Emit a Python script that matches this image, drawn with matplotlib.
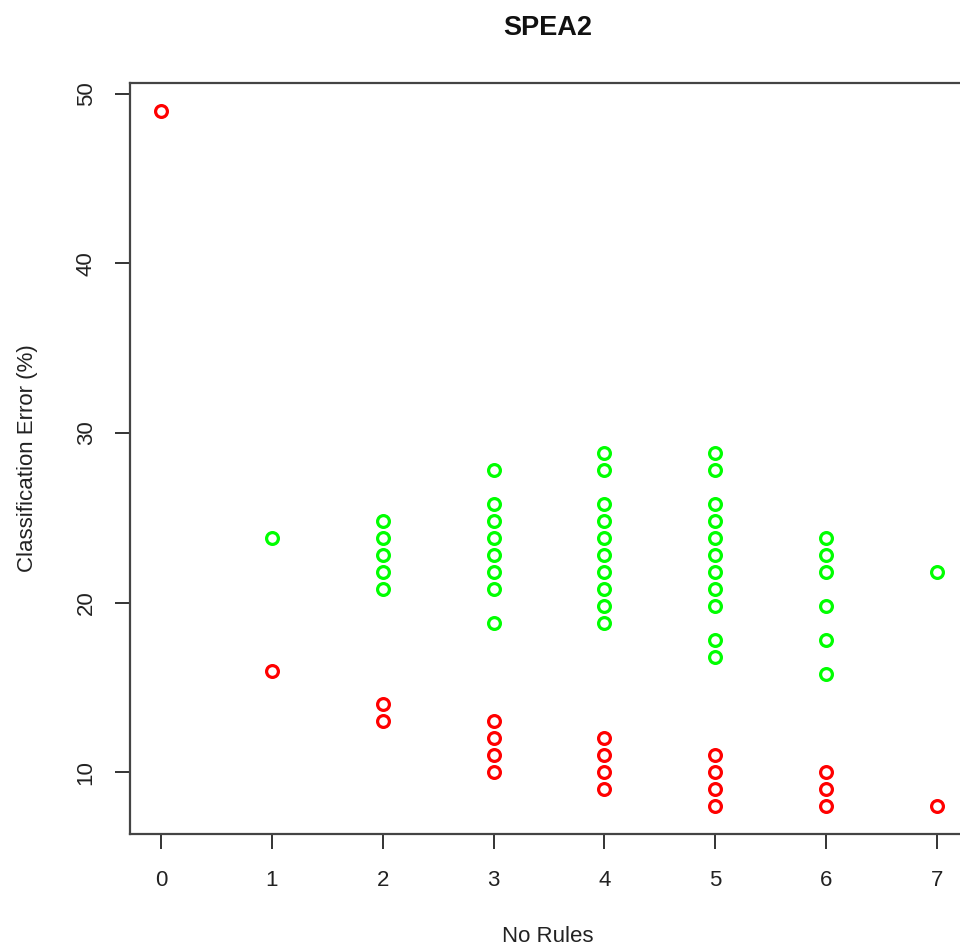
import matplotlib
matplotlib.use('Agg')
import matplotlib.pyplot as plt

plt.rcParams['font.family'] = ['Liberation Sans', 'DejaVu Sans']

# ── data ────────────────────────────────────────────────────────────────────
# green: dominated solutions, red: Pareto front
green_rules = [1,
               2, 2, 2, 2, 2,
               3, 3, 3, 3, 3, 3, 3, 3,
               4, 4, 4, 4, 4, 4, 4, 4, 4, 4,
               5, 5, 5, 5, 5, 5, 5, 5, 5, 5, 5,
               6, 6, 6, 6, 6, 6,
               7]
green_error = [23.8,
               24.8, 23.8, 22.8, 21.8, 20.8,
               27.8, 25.8, 24.8, 23.8, 22.8, 21.8, 20.8, 18.8,
               28.8, 27.8, 25.8, 24.8, 23.8, 22.8, 21.8, 20.8, 19.8, 18.8,
               28.8, 27.8, 25.8, 24.8, 23.8, 22.8, 21.8, 20.8, 19.8, 17.8, 16.8,
               23.8, 22.8, 21.8, 19.8, 17.8, 15.8,
               21.8]

red_rules = [0, 1, 2, 2, 3, 3, 3, 3, 4, 4, 4, 4, 5, 5, 5, 5, 6, 6, 6, 7]
red_error = [49, 16, 14, 13, 13, 12, 11, 10, 12, 11, 10, 9, 11, 10, 9, 8, 10, 9, 8, 8]

x_ticks = [0, 1, 2, 3, 4, 5, 6, 7]
y_ticks = [10, 20, 30, 40, 50]

# ── figure ──────────────────────────────────────────────────────────────────
W, H = 960, 950
fig = plt.figure(figsize=(W / 100, H / 100), dpi=100)
left, right, top, bottom = 130, 968, 83, 834
ax = fig.add_axes([left / W, 1 - bottom / H, (right - left) / W, (bottom - top) / H])

ax.plot(green_rules, green_error, linestyle='none', marker='o', ms=8.5,
        mfc='none', mec='#00ff00', mew=2.3)
ax.plot(red_rules, red_error, linestyle='none', marker='o', ms=8.5,
        mfc='none', mec='#ff0000', mew=2.3)

# R-style 4% padding around the data range
ax.set_xlim(-0.28, 7.28)
ax.set_ylim(6.36, 50.64)
ax.set_xticks(x_ticks)
ax.set_yticks(y_ticks)

for sp in ax.spines.values():
    sp.set_color('#444444')
    sp.set_linewidth(1.6)

ax.tick_params(axis='both', direction='out', length=11, width=1.4,
               color='#333333', labelsize=16, labelcolor='#222222')
ax.tick_params(axis='x', pad=15)
ax.tick_params(axis='y', pad=13, labelrotation=90)
for lab in ax.get_yticklabels():
    lab.set_va('center')

ax.set_xlabel('No Rules', fontsize=16, color='#222222')
ax.xaxis.set_label_coords((548 - left) / (right - left), -(937 - bottom) / (bottom - top))
ax.xaxis.label.set_va('center')
ax.set_ylabel('Classification Error (%)', fontsize=16, color='#222222')
ax.yaxis.set_label_coords(-(left - 28) / (right - left), 0.5)
ax.yaxis.label.set_va('center')

fig.text(548 / W, 1 - 28 / H, 'SPEA2', fontsize=19.5, fontweight='bold',
         ha='center', va='center', color='#111111')

fig.savefig('out.png', dpi=100)
